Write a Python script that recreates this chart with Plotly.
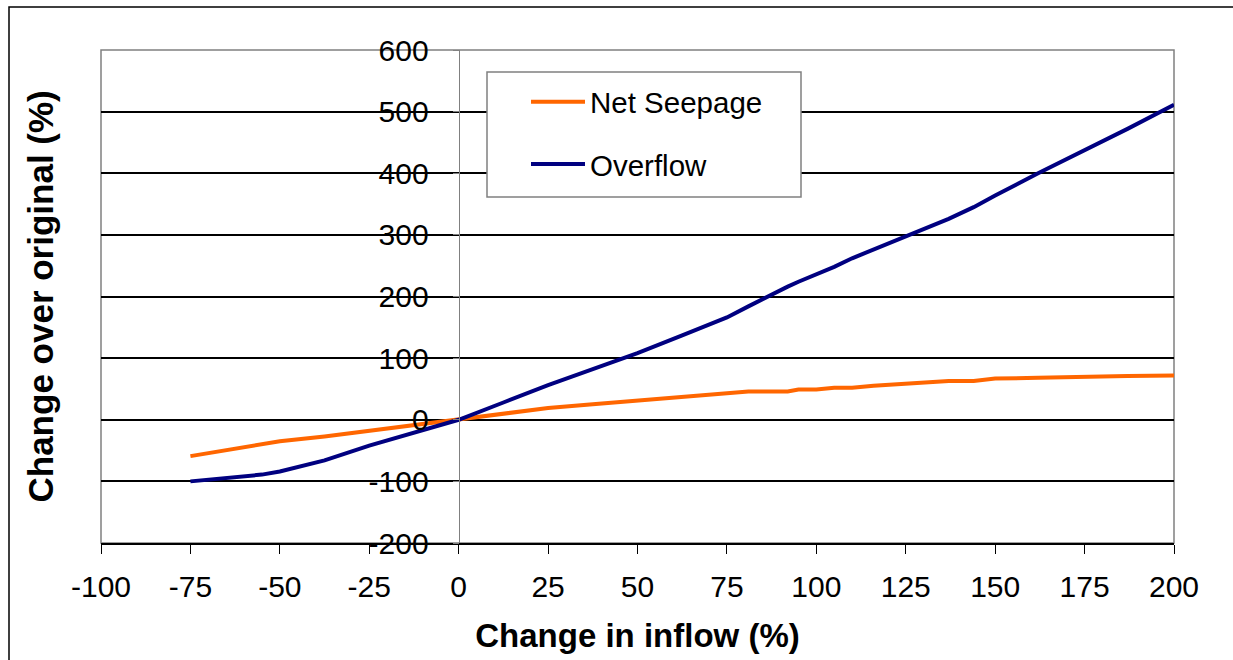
import plotly.graph_objects as go

# change in inflow (%)
inflow = [-75, -65, -55, -50, -37.5, -25, -12.5, 0, 12.5, 25, 37.5, 50, 62.5, 75,
          81, 87, 92, 95, 100, 105, 110, 116, 125, 137, 144, 150, 162, 175, 187, 200]
# change over original (%)
net_seepage = [-59, -50, -40, -35, -27, -18, -9, 0, 10, 19, 25, 31, 37, 43,
               46, 46, 46, 49, 49, 52, 52, 55, 59, 63, 63, 67, 68, 70, 71, 72]
overflow = [-100, -94, -89, -84, -66, -42, -21, 0, 28, 56, 82, 108, 137, 166,
            184, 202, 216, 224, 236, 248, 262, 276, 298, 326, 345, 364, 400, 437, 472, 511]

x_ticks = [-100, -75, -50, -25, 0, 25, 50, 75, 100, 125, 150, 175, 200]
x_tick_labels = ["-100", "-75", "-50", "-25", "0", "25", "50", "75", "100", "125", "150", "175", "200"]
y_ticks = [-200, -100, 0, 100, 200, 300, 400, 500, 600]
y_tick_labels = ["-200", "-100", "0", "100", "200", "300", "400", "500", "600"]

FONT = "Liberation Sans, Arial, sans-serif"

# plot area in pixels
W, H = 1233, 660
L, R, T, B = 101, 59, 50, 117
pw, ph = W - L - R, H - T - B


def px_x(p):
    return (p - L) / pw


def px_y(p):
    return (H - B - p) / ph


fig = go.Figure()
fig.add_trace(go.Scatter(x=inflow, y=net_seepage, name="Net Seepage", mode="lines",
                         line=dict(color="#FF6600", width=4), legendgroup="a"))
fig.add_trace(go.Scatter(x=inflow, y=overflow, name="Overflow", mode="lines",
                         line=dict(color="#000080", width=4), legendgroup="b"))

fig.update_layout(
    width=W, height=H,
    margin=dict(l=L, r=R, t=T, b=B),
    paper_bgcolor="white", plot_bgcolor="white",
    font=dict(family=FONT, color="black", size=30),
    showlegend=True,
    legend=dict(x=px_x(526), y=px_y(76), xanchor="left", yanchor="top",
                bgcolor="rgba(0,0,0,0)", borderwidth=0, font=dict(size=29.5),
                traceorder="grouped", tracegroupgap=21, itemwidth=54),
    xaxis=dict(range=[-100, 200], tickvals=x_ticks, ticktext=x_tick_labels,
               showgrid=False, zeroline=False,
               showline=True, linecolor="black", linewidth=1.5,
               ticks="outside", ticklen=9, tickcolor="black", tickwidth=1,
               ticklabelstandoff=7, tickfont=dict(size=30),
               title=dict(text="<b>Change in inflow (%)</b>", font=dict(size=33), standoff=22)),
    yaxis=dict(range=[-200, 600], tickvals=y_ticks, ticktext=y_tick_labels,
               showgrid=True, gridcolor="black",
               gridwidth=1.5, zeroline=False, anchor="free", position=1 / 3,
               showline=True, linecolor="#808080", linewidth=1,
               ticks="outside", ticklen=6, tickcolor="#808080",
               ticklabelstandoff=18, tickfont=dict(size=30)),
    shapes=[
        # plot area border
        dict(type="rect", xref="paper", yref="paper", x0=0, x1=1, y0=0, y1=1,
             line=dict(color="#808080", width=1.5), layer="below"),
        # legend box
        dict(type="rect", xref="paper", yref="paper",
             x0=px_x(487), x1=px_x(801), y0=px_y(197), y1=px_y(72),
             line=dict(color="#808080", width=1.5), fillcolor="white", layer="above"),
        # outer chart border
        dict(type="rect", xref="paper", yref="paper",
             x0=px_x(9), x1=px_x(1250), y0=px_y(680), y1=px_y(7),
             line=dict(color="black", width=1.5)),
    ],
    annotations=[
        dict(text="<b>Change over original (%)</b>", xref="paper", yref="paper",
             x=px_x(40), y=0.5, textangle=-90, showarrow=False,
             font=dict(size=35), xanchor="center", yanchor="middle"),
    ],
)

fig.write_html("out.html", config={"displayModeBar": False},
               post_script="document.body.style.margin='0';")
